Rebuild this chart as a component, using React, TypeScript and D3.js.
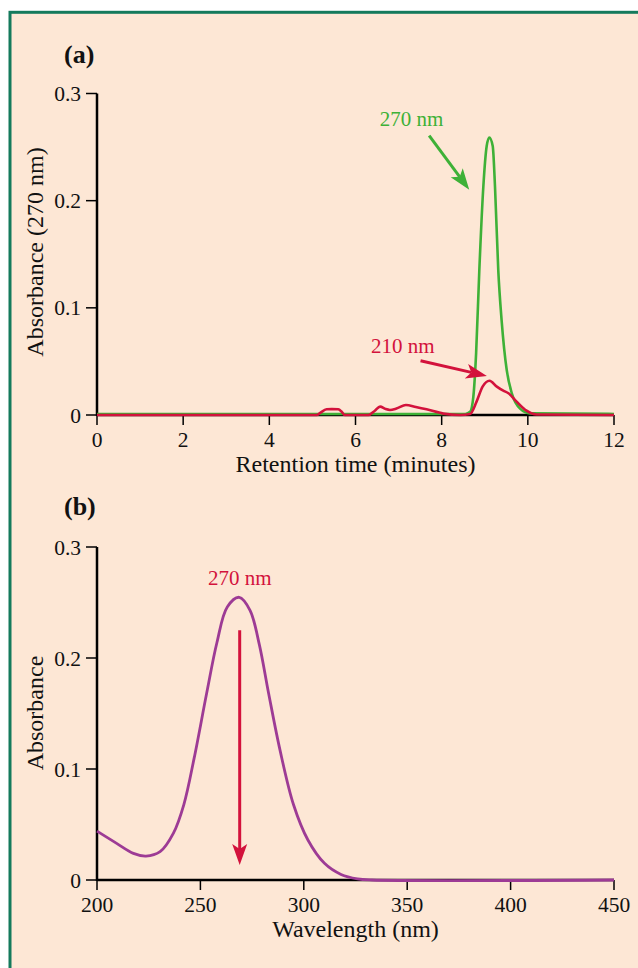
import React from "react";
import * as d3 from "d3";

// Panel (a): HPLC chromatogram, retention time (min) vs absorbance
const timeGreen = [0, 8.55, 8.66, 8.735, 8.8, 8.874, 8.967, 9.045, 9.106, 9.185, 9.238, 9.314, 9.39, 9.45, 9.51, 9.63, 9.82, 10.05, 12];
const abs270 = [0.001, 0.001, 0.003, 0.017, 0.058, 0.135, 0.213, 0.251, 0.259, 0.251, 0.213, 0.135, 0.089, 0.062, 0.042, 0.02, 0.006, 0.0015, 0.001];

const timeRed = [0, 5.1, 5.18, 5.33, 5.45, 5.6, 5.68, 5.75, 6.3, 6.45, 6.57, 6.7, 6.8, 6.95, 7.17, 7.4, 7.65, 8.04, 8.43, 8.66, 8.81, 8.95, 9.11, 9.28, 9.43, 9.55, 9.74, 9.97, 10.2, 12];
const abs210 = [0, 0, 0.002, 0.0053, 0.0055, 0.0053, 0.003, 0, 0, 0.004, 0.0078, 0.0055, 0.0047, 0.006, 0.0093, 0.0075, 0.0053, 0.0013, 0, 0.001, 0.0125, 0.0265, 0.032, 0.0265, 0.0227, 0.0203, 0.0125, 0.004, 0.0005, 0];

const timeTicks = [0, 2, 4, 6, 8, 10, 12];
const absTicks = [0, 0.1, 0.2, 0.3];

// Panel (b): UV absorption spectrum of the 9.1 min peak
const wavelength = [200, 209.5, 217.6, 223.7, 230.5, 236.9, 242, 247, 253, 258, 263, 268.8, 274, 278.5, 283, 288.5, 295, 302, 310, 318, 326, 333, 450];
const absSpectrum = [0.044, 0.033, 0.024, 0.0216, 0.0255, 0.042, 0.068, 0.11, 0.168, 0.214, 0.246, 0.2547, 0.243, 0.212, 0.168, 0.117, 0.068, 0.036, 0.015, 0.005, 0.001, 0, 0];
const wavelengthTicks = [200, 250, 300, 350, 400, 450];

// Annotations in data units: label position, arrow start, arrow tip
const note270a = { label: "270 nm", lx: 7.3, ly: 0.2694, x1: 7.71, y1: 0.2607, x2: 8.64, y2: 0.2103 };
const note210a = { label: "210 nm", lx: 7.1, ly: 0.0582, x1: 7.51, y1: 0.0507, x2: 9.05, y2: 0.0364 };
const note270b = { label: "270 nm", lx: 269, ly: 0.266, x1: 269, y1: 0.225, x2: 269, y2: 0.0135 };

const BG = "#fde7d5";
const FRAME = "#147a5c";
const GREEN = "#3eb137";
const RED = "#d3123c";
const PURPLE = "#9d3b95";
const FONT = "'Liberation Serif', 'Times New Roman', serif";

function arrowHead(x1: number, y1: number, x2: number, y2: number, len: number, half: number, notch: number) {
  const a = Math.atan2(y2 - y1, x2 - x1);
  const ux = Math.cos(a), uy = Math.sin(a);
  const px = -uy, py = ux;
  const bx = x2 - ux * len, by = y2 - uy * len;
  const nx = x2 - ux * (len - notch), ny = y2 - uy * (len - notch);
  return `M${x2},${y2}L${bx + px * half},${by + py * half}L${nx},${ny}L${bx - px * half},${by - py * half}Z`;
}

function Annotation({ n, x, y, color }: any) {
  const X1 = x(n.x1), Y1 = y(n.y1), X2 = x(n.x2), Y2 = y(n.y2);
  const a = Math.atan2(Y2 - Y1, X2 - X1);
  const len = 21;
  const ex = X2 - Math.cos(a) * (len - 5), ey = Y2 - Math.sin(a) * (len - 5);
  return (
    <g>
      <text x={x(n.lx)} y={y(n.ly)} textAnchor="middle" fill={color} fontSize={21} fontFamily={FONT}>{n.label}</text>
      <line x1={X1} y1={Y1} x2={ex} y2={ey} stroke={color} strokeWidth={3} />
      <path d={arrowHead(X1, Y1, X2, Y2, len, 7.5, 5)} fill={color} />
    </g>
  );
}

function Axes({ x, y, xt, xTitle, yTitle, yTitleY, fmtX }: any) {
  const [x0, x1] = x.range();
  const [y0, y1] = y.range();
  return (
    <g fontFamily={FONT} fill="#111">
      <line x1={x0} y1={y0} x2={x1} y2={y0} stroke="#000" strokeWidth={2.5} />
      <line x1={x0} y1={y0 + 1} x2={x0} y2={y1} stroke="#000" strokeWidth={2.5} />
      {xt.map((t: number) => (
        <g key={"x" + t}>
          <line x1={x(t)} x2={x(t)} y1={y0} y2={y0 + 10} stroke="#000" strokeWidth={1.5} />
          <text x={x(t)} y={y0 + 32} textAnchor="middle" fontSize={21.5}>{fmtX(t)}</text>
        </g>
      ))}
      {absTicks.map((t) => (
        <g key={"y" + t}>
          <line x1={x0 - 11} x2={x0} y1={y(t)} y2={y(t)} stroke="#000" strokeWidth={1.5} />
          <text x={x0 - 16} y={y(t)} dy="0.35em" textAnchor="end" fontSize={21.5}>{t === 0 ? "0" : d3.format(".1f")(t)}</text>
        </g>
      ))}
      <text x={(x0 + x1) / 2} y={y0 + 57} textAnchor="middle" fontSize={24}>{xTitle}</text>
      <text transform={`translate(43,${yTitleY}) rotate(-90)`} textAnchor="middle" fontSize={24}>{yTitle}</text>
    </g>
  );
}

export default function App() {
  const xA = d3.scaleLinear().domain([0, 12]).range([97, 614]);
  const yA = d3.scaleLinear().domain([0, 0.3]).range([415, 93.5]);
  const xB = d3.scaleLinear().domain([200, 450]).range([97, 614]);
  const yB = d3.scaleLinear().domain([0, 0.3]).range([880, 547]);

  const green = d3.line<number>().curve(d3.curveMonotoneX).x((_, i) => xA(timeGreen[i])).y((d) => yA(d))(abs270) as string;
  const red = d3.line<number>().curve(d3.curveMonotoneX).x((_, i) => xA(timeRed[i])).y((d) => yA(d))(abs210) as string;
  const purple = d3.line<number>().curve(d3.curveCatmullRom.alpha(0.5)).x((_, i) => xB(wavelength[i])).y((d) => yB(Math.max(0, d)))(absSpectrum) as string;

  return (
    <div style={{ position: "absolute", left: 0, top: 0 }}>
      <svg width={638} height={968} style={{ display: "block", background: "#fff" }}>
        <rect x={10} y={12.3} width={700} height={1000} fill={BG} stroke={FRAME} strokeWidth={3} />

        <text x={64} y={63} fontSize={26} fontWeight="bold" fontFamily={FONT} fill="#111">(a)</text>
        <Axes x={xA} y={yA} xt={timeTicks} fmtX={(t: number) => String(t)} xTitle="Retention time (minutes)" yTitle="Absorbance (270 nm)" yTitleY={252} />
        <path d={green} fill="none" stroke={GREEN} strokeWidth={2.6} strokeLinejoin="round" />
        <path d={red} fill="none" stroke={RED} strokeWidth={2.6} strokeLinejoin="round" />
        <Annotation n={note270a} x={xA} y={yA} color={GREEN} />
        <Annotation n={note210a} x={xA} y={yA} color={RED} />

        <text x={64} y={515} fontSize={26} fontWeight="bold" fontFamily={FONT} fill="#111">(b)</text>
        <Axes x={xB} y={yB} xt={wavelengthTicks} fmtX={(t: number) => String(t)} xTitle="Wavelength (nm)" yTitle="Absorbance" yTitleY={713} />
        <path d={purple} fill="none" stroke={PURPLE} strokeWidth={2.8} strokeLinejoin="round" />
        <Annotation n={note270b} x={xB} y={yB} color={RED} />
      </svg>
    </div>
  );
}
